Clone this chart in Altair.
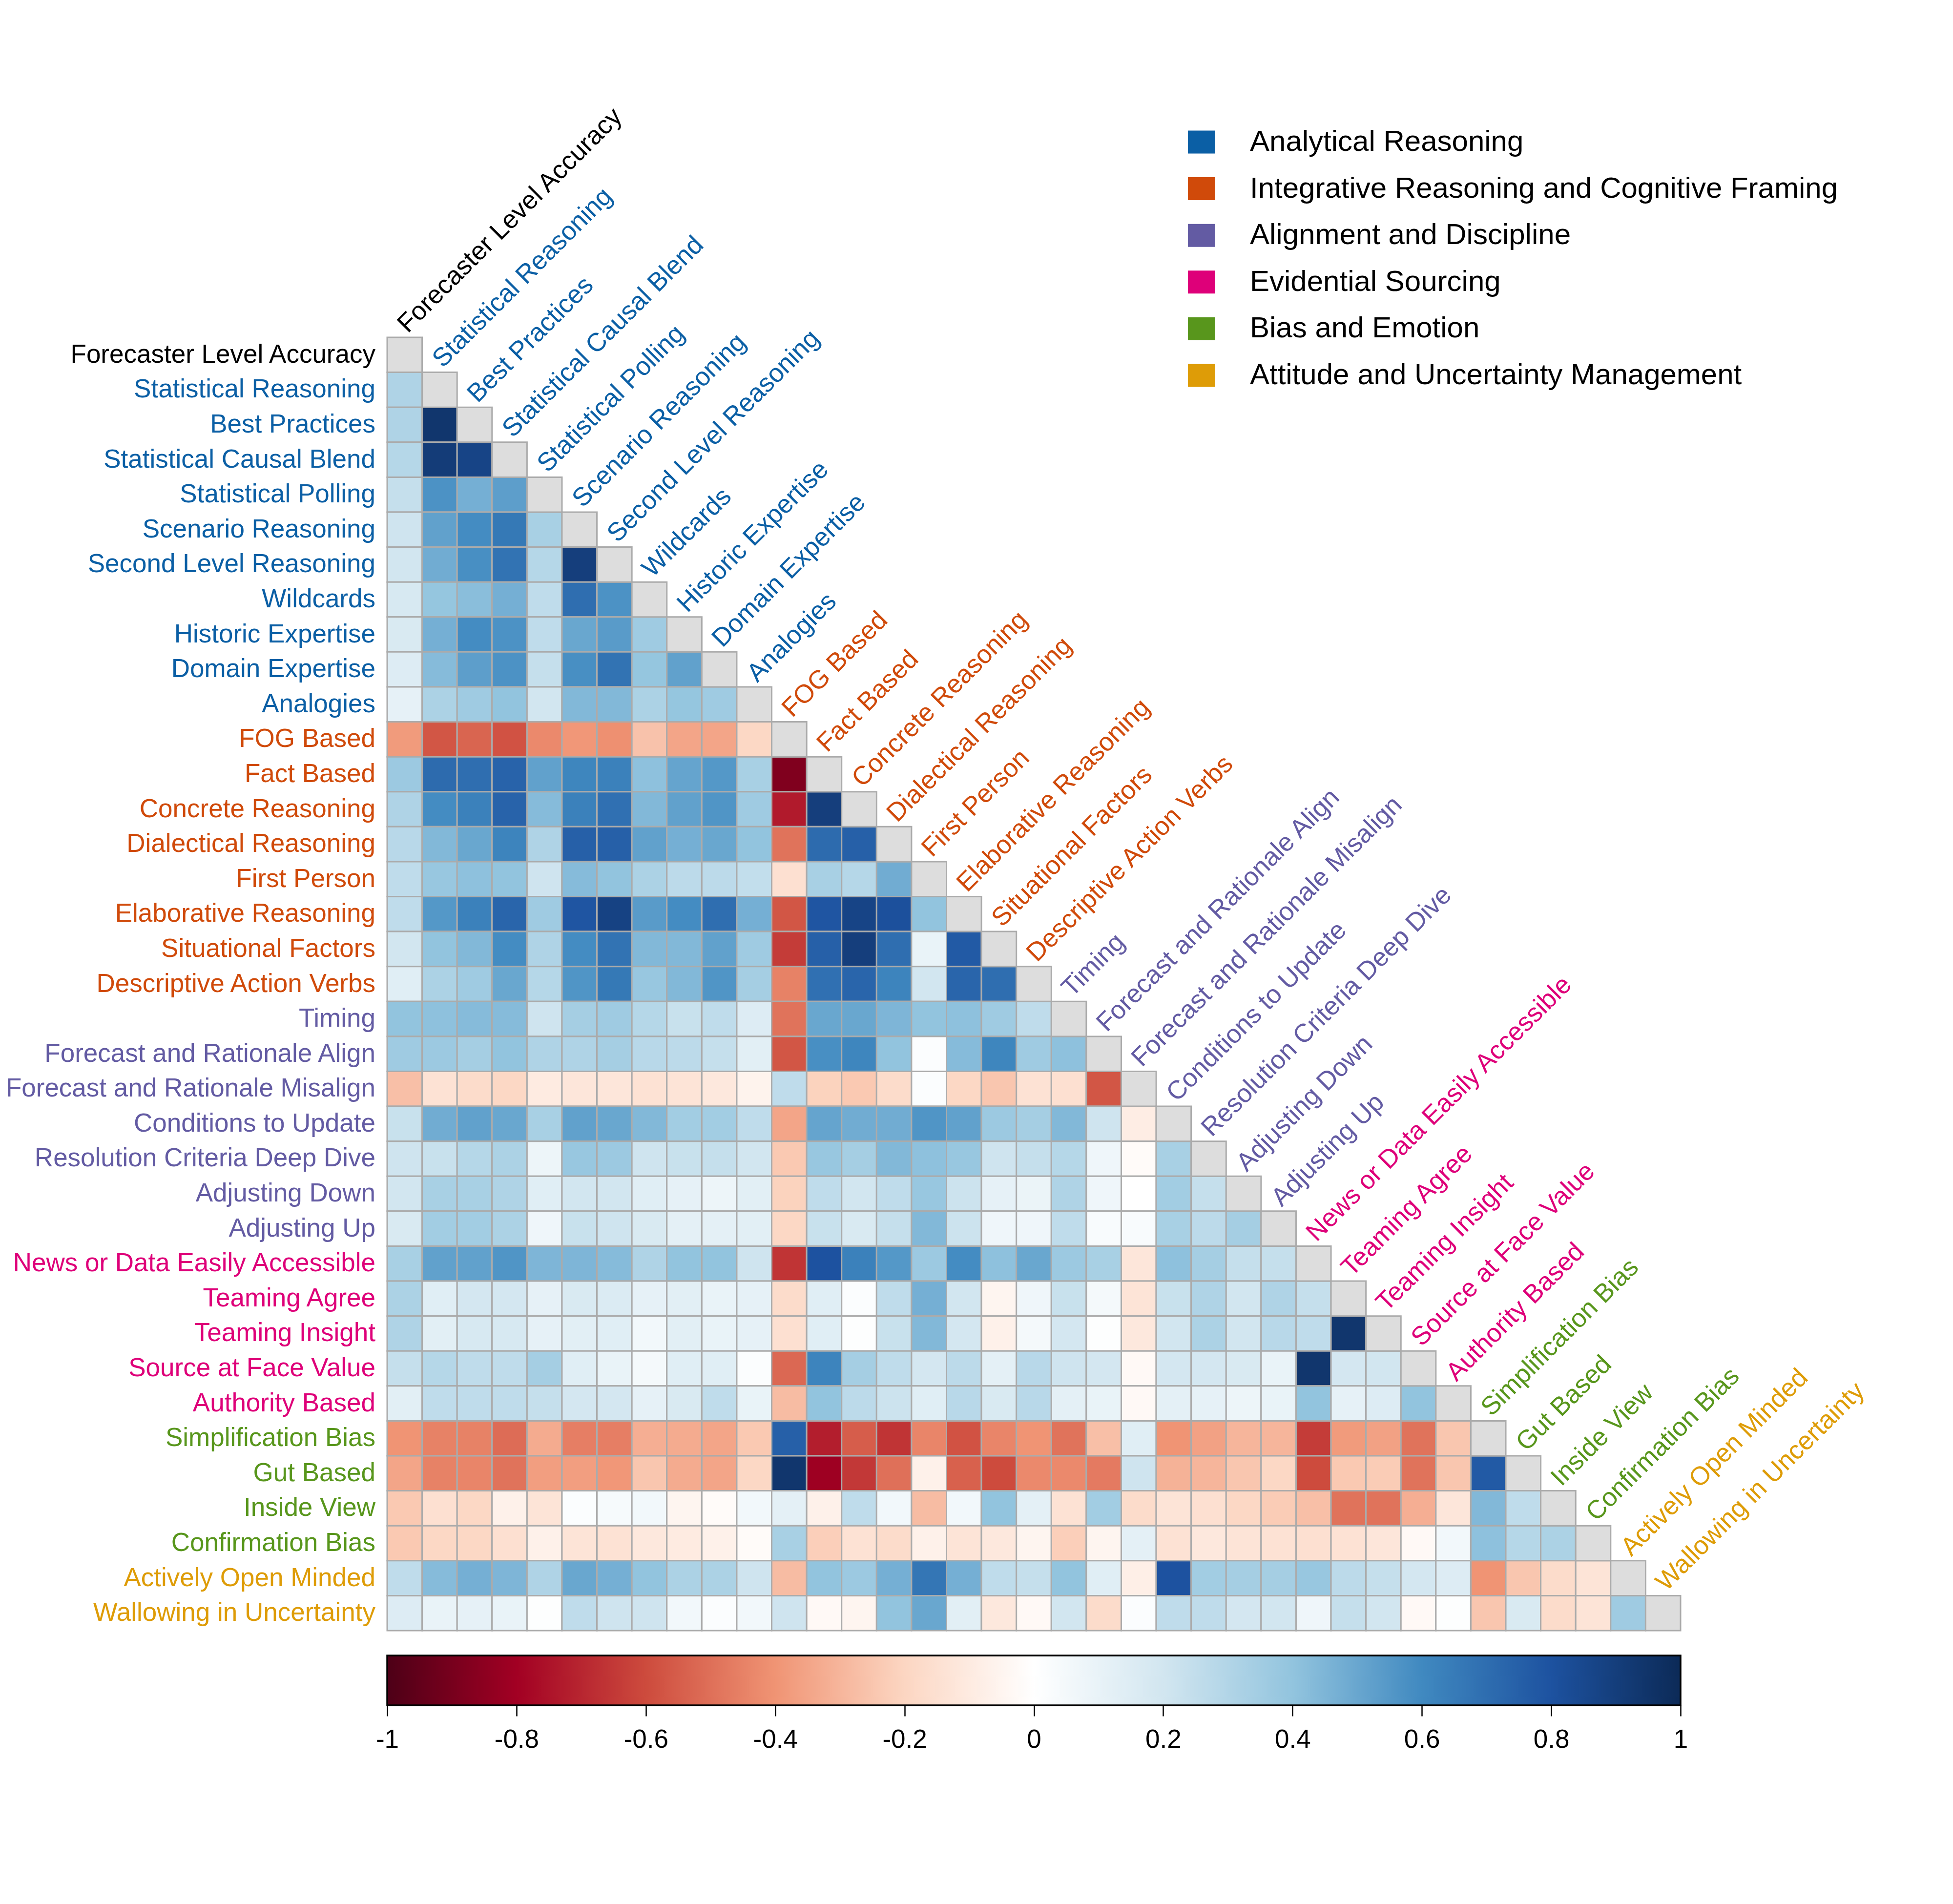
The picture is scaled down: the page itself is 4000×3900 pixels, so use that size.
import altair as alt
import pandas as pd

FONT = "Liberation Sans"

# ---- variables, in matrix order -------------------------------------------
variables = [
    "Forecaster Level Accuracy",
    "Statistical Reasoning", "Best Practices", "Statistical Causal Blend",
    "Statistical Polling", "Scenario Reasoning", "Second Level Reasoning",
    "Wildcards", "Historic Expertise", "Domain Expertise", "Analogies",
    "FOG Based", "Fact Based", "Concrete Reasoning", "Dialectical Reasoning",
    "First Person", "Elaborative Reasoning", "Situational Factors",
    "Descriptive Action Verbs",
    "Timing", "Forecast and Rationale Align", "Forecast and Rationale Misalign",
    "Conditions to Update", "Resolution Criteria Deep Dive", "Adjusting Down",
    "Adjusting Up",
    "News or Data Easily Accessible", "Teaming Agree", "Teaming Insight",
    "Source at Face Value", "Authority Based",
    "Simplification Bias", "Gut Based", "Inside View", "Confirmation Bias",
    "Actively Open Minded", "Wallowing in Uncertainty",
]

group_names = [
    "Analytical Reasoning",
    "Integrative Reasoning and Cognitive Framing",
    "Alignment and Discipline",
    "Evidential Sourcing",
    "Bias and Emotion",
    "Attitude and Uncertainty Management",
]
group_colors = ["#0B5FA5", "#D04A0A", "#635BA3", "#DE0079", "#58961C", "#DE9C07"]
group_sizes = [10, 8, 7, 5, 4, 2]
outcome_color = "#000000"

# ---- colour bar -----------------------------------------------------------
colorbar_ticks = [-1, -0.8, -0.6, -0.4, -0.2, 0, 0.2, 0.4, 0.6, 0.8, 1]
colorbar_colors = [
    "#4d0017", "#a20023", "#cd4b3d", "#f09474", "#fcd6c2", "#ffffff",
    "#d2e6f0", "#92c4de", "#4089c0", "#1d52a0", "#0c2a57",
]

# ---- lower-triangle correlations (row against each earlier column) --------
statistical_reasoning = [0.31]
best_practices = [0.31, 0.94]
statistical_causal_blend = [0.29, 0.91, 0.87]
statistical_polling = [0.24, 0.57, 0.47, 0.53]
scenario_reasoning = [0.21, 0.52, 0.59, 0.66, 0.33]
second_level_reasoning = [0.2, 0.48, 0.58, 0.68, 0.29, 0.9]
wildcards = [0.18, 0.39, 0.42, 0.47, 0.26, 0.7, 0.57]
historic_expertise = [0.17, 0.47, 0.59, 0.57, 0.26, 0.5, 0.54, 0.36]
domain_expertise = [0.15, 0.43, 0.53, 0.57, 0.24, 0.58, 0.68, 0.39, 0.52]
analogies = [0.11, 0.32, 0.36, 0.4, 0.2, 0.44, 0.44, 0.32, 0.39, 0.36]
fog_based = [-0.38, -0.57, -0.53, -0.58, -0.43, -0.39, -0.41, -0.26, -0.35,
             -0.35, -0.19]
fact_based = [0.37, 0.71, 0.7, 0.74, 0.52, 0.61, 0.63, 0.41, 0.51, 0.55, 0.33,
              -0.88]
concrete_reasoning = [0.31, 0.59, 0.63, 0.74, 0.43, 0.63, 0.69, 0.44, 0.52,
                      0.56, 0.36, -0.73, 0.9]
dialectical_reasoning = [0.28, 0.44, 0.5, 0.62, 0.31, 0.75, 0.75, 0.52, 0.47,
                         0.5, 0.4, -0.49, 0.71, 0.75]
first_person = [0.26, 0.38, 0.41, 0.4, 0.21, 0.43, 0.4, 0.32, 0.27, 0.27, 0.25,
                -0.15, 0.33, 0.29, 0.48]
elaborative_reasoning = [0.26, 0.55, 0.63, 0.73, 0.36, 0.79, 0.88, 0.54, 0.59,
                         0.7, 0.47, -0.57, 0.79, 0.87, 0.81, 0.4]
situational_factors = [0.2, 0.4, 0.44, 0.59, 0.31, 0.59, 0.68, 0.44, 0.44,
                       0.52, 0.36, -0.64, 0.75, 0.9, 0.7, 0.1, 0.77]
descriptive_action_verbs = [0.14, 0.32, 0.36, 0.5, 0.29, 0.56, 0.66, 0.38,
                            0.44, 0.56, 0.34, -0.45, 0.69, 0.73, 0.62, 0.2,
                            0.73, 0.7]
timing = [0.4, 0.41, 0.43, 0.43, 0.21, 0.34, 0.36, 0.29, 0.23, 0.26, 0.15,
          -0.49, 0.5, 0.5, 0.45, 0.4, 0.41, 0.36, 0.26]
forecast_rationale_align = [0.36, 0.37, 0.34, 0.4, 0.31, 0.31, 0.34, 0.28,
                            0.27, 0.24, 0.13, -0.57, 0.58, 0.61, 0.4, 0.02,
                            0.43, 0.61, 0.36, 0.41]
forecast_rationale_misalign = [-0.27, -0.14, -0.17, -0.19, -0.1, -0.12, -0.12,
                               -0.14, -0.13, -0.11, -0.06, 0.26, -0.21, -0.24,
                               -0.17, 0.02, -0.19, -0.25, -0.14, -0.15, -0.57]
conditions_to_update = [0.23, 0.48, 0.52, 0.5, 0.33, 0.52, 0.5, 0.44, 0.35,
                        0.35, 0.26, -0.35, 0.51, 0.48, 0.48, 0.56, 0.52, 0.37,
                        0.34, 0.44, 0.21, -0.09]
resolution_criteria_deep_dive = [0.21, 0.23, 0.29, 0.32, 0.08, 0.38, 0.37,
                                 0.21, 0.23, 0.24, 0.2, -0.24, 0.38, 0.34,
                                 0.44, 0.41, 0.38, 0.21, 0.24, 0.29, 0.07,
                                 -0.02, 0.33]
adjusting_down = [0.2, 0.33, 0.33, 0.31, 0.14, 0.2, 0.2, 0.14, 0.11, 0.08,
                  0.13, -0.21, 0.26, 0.2, 0.26, 0.38, 0.22, 0.11, 0.09, 0.31,
                  0.07, 0.0, 0.35, 0.24]
adjusting_up = [0.17, 0.35, 0.35, 0.32, 0.07, 0.23, 0.21, 0.17, 0.12, 0.12,
                0.13, -0.19, 0.23, 0.17, 0.24, 0.44, 0.22, 0.07, 0.07, 0.26,
                0.03, 0.03, 0.33, 0.27, 0.34]
news_or_data_easily_accessible = [0.33, 0.52, 0.52, 0.56, 0.45, 0.45, 0.43,
                                  0.31, 0.4, 0.4, 0.21, -0.66, 0.8, 0.63,
                                  0.55, 0.37, 0.59, 0.41, 0.5, 0.37, 0.33,
                                  -0.12, 0.41, 0.34, 0.24, 0.24]
teaming_agree = [0.32, 0.14, 0.19, 0.19, 0.11, 0.17, 0.16, 0.11, 0.13, 0.1,
                 0.11, -0.17, 0.14, 0.02, 0.26, 0.47, 0.2, -0.05, 0.07, 0.23,
                 0.05, -0.13, 0.23, 0.31, 0.2, 0.31, 0.24]
teaming_insight = [0.31, 0.13, 0.18, 0.18, 0.11, 0.13, 0.14, 0.06, 0.13, 0.1,
                   0.11, -0.15, 0.14, 0.01, 0.23, 0.44, 0.19, -0.07, 0.05,
                   0.19, 0.01, -0.11, 0.2, 0.32, 0.2, 0.28, 0.26, 0.94]
source_at_face_value = [0.24, 0.29, 0.26, 0.26, 0.34, 0.14, 0.1, 0.05, 0.14,
                        0.14, 0.02, -0.52, 0.62, 0.34, 0.26, 0.19, 0.27, 0.12,
                        0.28, 0.21, 0.19, -0.03, 0.19, 0.19, 0.17, 0.1, 0.94,
                        0.19, 0.2]
authority_based = [0.13, 0.26, 0.26, 0.26, 0.24, 0.19, 0.19, 0.11, 0.17, 0.26,
                   0.1, -0.28, 0.4, 0.27, 0.22, 0.14, 0.28, 0.17, 0.28, 0.12,
                   0.1, -0.03, 0.12, 0.11, 0.08, 0.1, 0.4, 0.11, 0.15, 0.4]
simplification_bias = [-0.4, -0.45, -0.45, -0.51, -0.33, -0.46, -0.46, -0.32,
                       -0.33, -0.35, -0.24, 0.75, -0.72, -0.55, -0.66, -0.44,
                       -0.58, -0.44, -0.4, -0.49, -0.27, 0.14, -0.4, -0.36,
                       -0.3, -0.3, -0.64, -0.38, -0.36, -0.49, -0.25]
gut_based = [-0.35, -0.45, -0.44, -0.49, -0.37, -0.37, -0.39, -0.25, -0.33,
             -0.35, -0.19, 0.94, -0.81, -0.65, -0.5, -0.07, -0.54, -0.6,
             -0.43, -0.43, -0.47, 0.21, -0.31, -0.3, -0.25, -0.19, -0.6,
             -0.24, -0.23, -0.49, -0.25, 0.77]
inside_view = [-0.24, -0.15, -0.19, -0.07, -0.13, 0.02, 0.04, 0.06, -0.05,
               -0.02, 0.06, 0.12, -0.07, 0.26, 0.06, -0.28, 0.06, 0.4, 0.12,
               -0.14, 0.35, -0.17, -0.13, -0.15, -0.19, -0.23, -0.27, -0.49,
               -0.49, -0.32, -0.12, 0.44, 0.26]
confirmation_bias = [-0.24, -0.19, -0.19, -0.15, -0.07, -0.13, -0.14, -0.11,
                     -0.1, -0.07, -0.02, 0.33, -0.22, -0.14, -0.17, -0.07,
                     -0.13, -0.11, -0.05, -0.22, -0.05, 0.12, -0.14, -0.11,
                     -0.13, -0.14, -0.15, -0.14, -0.12, -0.03, 0.06, 0.41,
                     0.29, 0.32]
actively_open_minded = [0.26, 0.43, 0.47, 0.45, 0.31, 0.5, 0.47, 0.4, 0.32,
                        0.32, 0.21, -0.28, 0.4, 0.37, 0.47, 0.67, 0.47, 0.26,
                        0.24, 0.4, 0.14, -0.08, 0.8, 0.35, 0.34, 0.34, 0.38,
                        0.27, 0.24, 0.19, 0.15, -0.4, -0.25, -0.17, -0.13]
wallowing_in_uncertainty = [0.15, 0.1, 0.11, 0.1, 0.01, 0.26, 0.21, 0.21,
                            0.06, 0.02, 0.06, 0.21, -0.03, -0.05, 0.4, 0.5,
                            0.13, -0.11, -0.03, 0.2, -0.17, 0.02, 0.26, 0.26,
                            0.19, 0.2, 0.07, 0.24, 0.2, -0.03, 0.01, -0.25,
                            0.17, -0.17, -0.13, 0.36]

lower_rows = [
    statistical_reasoning, best_practices, statistical_causal_blend,
    statistical_polling, scenario_reasoning, second_level_reasoning,
    wildcards, historic_expertise, domain_expertise, analogies,
    fog_based, fact_based, concrete_reasoning, dialectical_reasoning,
    first_person, elaborative_reasoning, situational_factors,
    descriptive_action_verbs,
    timing, forecast_rationale_align, forecast_rationale_misalign,
    conditions_to_update, resolution_criteria_deep_dive, adjusting_down,
    adjusting_up,
    news_or_data_easily_accessible, teaming_agree, teaming_insight,
    source_at_face_value, authority_based,
    simplification_bias, gut_based, inside_view, confirmation_bias,
    actively_open_minded, wallowing_in_uncertainty,
]

# ---- tables ---------------------------------------------------------------
label_colors = [outcome_color]
for color, n in zip(group_colors, group_sizes):
    label_colors += [color] * n

labels_df = pd.DataFrame({"name": variables, "hex": label_colors})

records = []
for i, row in enumerate(lower_rows, start=1):
    for j, r in enumerate(row):
        records.append({"row": variables[i], "col": variables[j], "r": r})
cells_df = pd.DataFrame(records)

legend_df = pd.DataFrame({"group": group_names, "hex": group_colors})
bar_df = pd.DataFrame({"lo": [colorbar_ticks[0]], "hi": [colorbar_ticks[-1]]})

# ---- geometry -------------------------------------------------------------
SIDE = 2649            # square matrix area
GRID_STROKE = "#ababab"

band = alt.Scale(domain=variables, paddingInner=0, paddingOuter=0)
point = alt.Scale(type="point", domain=variables, padding=0.5)

heat = alt.Chart(cells_df).mark_rect(stroke=GRID_STROKE, strokeWidth=3).encode(
    x=alt.X("col:N", scale=band, axis=None),
    y=alt.Y("row:N", scale=band, axis=None),
    color=alt.Color(
        "r:Q",
        scale=alt.Scale(domain=colorbar_ticks, range=colorbar_colors,
                        interpolate="rgb"),
        legend=None,
    ),
)

diagonal = alt.Chart(labels_df).mark_rect(
    fill="#dddddd", stroke=GRID_STROKE, strokeWidth=3
).encode(
    x=alt.X("name:N", scale=band, axis=None),
    y=alt.Y("name:N", scale=band, axis=None),
)

row_labels = alt.Chart(labels_df).mark_text(
    align="right", baseline="middle", fontSize=53, font=FONT
).encode(
    x=alt.value(-24),
    y=alt.Y("name:N", scale=point, axis=None),
    text="name:N",
    color=alt.Color("hex:N", scale=None),
)

# diagonal labels, rotated up-right from the top of each diagonal cell
col_labels = alt.Chart(labels_df).mark_text(
    align="left", baseline="alphabetic", angle=315, dx=35, dy=-26,
    fontSize=53, font=FONT,
).encode(
    x=alt.X("name:N", scale=point, axis=None),
    y=alt.Y("name:N", scale=point, axis=None),
    text="name:N",
    color=alt.Color("hex:N", scale=None),
)

gradient = alt.LinearGradient(
    gradient="linear",
    stops=[
        alt.GradientStop(offset=(t + 1) / 2, color=c)
        for t, c in zip(colorbar_ticks, colorbar_colors)
    ],
    x1=0, x2=1, y1=0, y2=0,
)

colorbar = alt.Chart(bar_df).mark_rect(
    fill=gradient, stroke="black", strokeWidth=3.5
).encode(
    x=alt.X(
        "lo:Q",
        scale=alt.Scale(domain=[colorbar_ticks[0], colorbar_ticks[-1]],
                        nice=False, zero=False),
        axis=alt.Axis(
            orient="bottom", offset=153, values=colorbar_ticks,
            domain=False, grid=False, tickSize=22, tickWidth=2.5,
            tickColor="black", labelFontSize=53, labelFont=FONT,
            labelColor="black", labelPadding=22, labelFlush=False,
            labelOverlap=False, title="",
            labelExpr="replace(format(datum.value, '.1~f'), '\u2212', '-')",
        ),
    ),
    x2="hi:Q",
    y=alt.value(2700),
    y2=alt.value(2802),
)

legend_y = alt.Y(
    "group:N",
    scale=alt.Scale(type="point", domain=group_names, range=[-400, 78],
                    padding=0),
    axis=None,
)

legend_keys = alt.Chart(legend_df).mark_point(
    shape="M-1.19,-1H1.19V1H-1.19Z", filled=True, size=2209, opacity=1
).encode(
    x=alt.value(1668),
    y=legend_y,
    color=alt.Color("hex:N", scale=None),
)

legend_text = alt.Chart(legend_df).mark_text(
    align="left", baseline="middle", fontSize=60, font=FONT, color="black"
).encode(
    x=alt.value(1767),
    y=legend_y,
    text="group:N",
)

chart = (
    alt.layer(heat, diagonal, col_labels, row_labels, colorbar,
              legend_keys, legend_text)
    .resolve_scale(x="independent", y="independent", color="independent")
    .properties(
        width=SIDE,
        height=SIDE,
        autosize=alt.AutoSizeParams(type="none"),
        padding={"left": 793, "top": 691, "right": 558, "bottom": 560},
        background="white",
    )
    .configure_view(stroke="transparent")
)

chart.save("out.html", embed_options={"renderer": "svg", "actions": False})
